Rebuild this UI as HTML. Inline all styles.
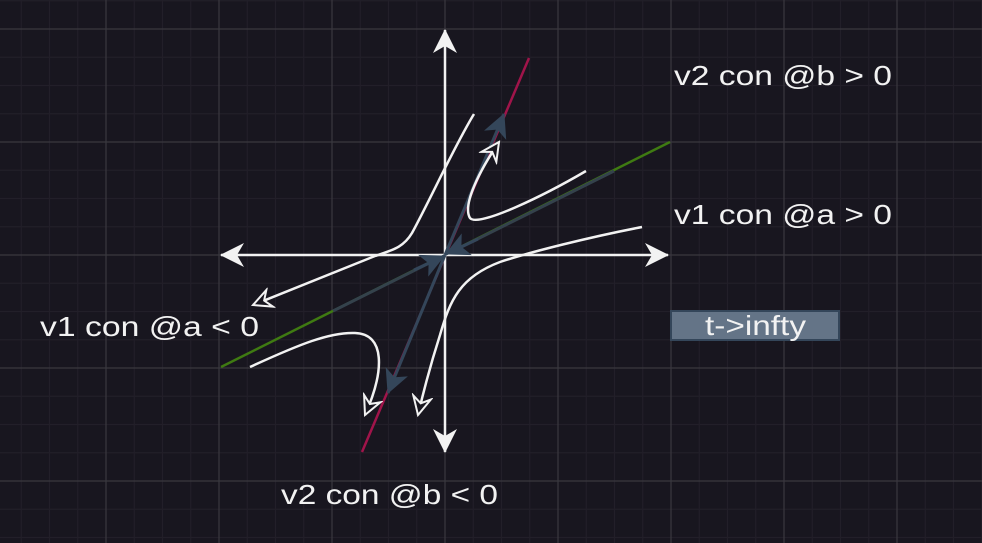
<!DOCTYPE html>
<html><head><meta charset="utf-8"><style>
html,body{margin:0;padding:0;background:#18161f;}
svg{display:block;}
text{font-family:"Liberation Sans",sans-serif;fill:#f2f2f2;font-size:28px;}
</style></head><body>
<svg width="982" height="543" viewBox="0 0 982 543">
<defs>
<marker id="hollow" viewBox="0 0 22 22" refX="20" refY="11" markerWidth="22" markerHeight="22" markerUnits="userSpaceOnUse" orient="auto">
<path d="M20,11 L2,2 L8,11 L2,20 Z" fill="#18161f" stroke="#f2f2f2" stroke-width="2"/>
</marker>
<marker id="white" viewBox="0 0 26 26" refX="24" refY="13" markerWidth="26" markerHeight="26" markerUnits="userSpaceOnUse" orient="auto">
<path d="M25,13 L1,1 L8,13 L1,25 Z" fill="#f2f2f2"/>
</marker>
<marker id="slate" viewBox="0 0 26 26" refX="24" refY="13" markerWidth="26" markerHeight="26" markerUnits="userSpaceOnUse" orient="auto">
<path d="M25,13 L1,1 L7,13 L1,25 Z" fill="#34465a"/>
</marker>
</defs>
<g id="grid"></g>
<line x1="221" y1="367" x2="670" y2="142" stroke="#3f7a12" stroke-width="2.5"/>
<line x1="333" y1="311" x2="614" y2="171" stroke="#34424c" stroke-width="3"/>
<line x1="529" y1="58" x2="362" y2="452" stroke="#a0144a" stroke-width="2.5"/>
<path d="M445,255 L668,255" stroke="#f2f2f2" stroke-width="2.5" marker-end="url(#white)"/>
<path d="M445,255 L221,255" stroke="#f2f2f2" stroke-width="2.5" marker-end="url(#white)"/>
<path d="M445,255 L445,30" stroke="#f2f2f2" stroke-width="2.5" marker-end="url(#white)"/>
<path d="M445,255 L445,452" stroke="#f2f2f2" stroke-width="2.5" marker-end="url(#white)"/>
<path d="M445,255 L504,114" stroke="#34465a" stroke-width="3" marker-end="url(#slate)"/>
<path d="M445,255 L388,393" stroke="#34465a" stroke-width="3" marker-end="url(#slate)"/>
<path d="M478,239 L446,254" stroke="#34465a" stroke-width="3" marker-end="url(#slate)"/>
<path d="M414,270 L444,256" stroke="#34465a" stroke-width="3" marker-end="url(#slate)"/>
<path d="M474,114 C455,145 430,200 412,233 C403,248 392,250 375,256 L253,305" fill="none" stroke="#f2f2f2" stroke-width="2.5" marker-end="url(#hollow)"/>
<path d="M586,171 C545,195 478,228 470,218 C462,205 480,170 499,142" fill="none" stroke="#f2f2f2" stroke-width="2.5" marker-end="url(#hollow)"/>
<path d="M642,227 C590,237 530,252 500,262 C460,277 450,300 440,335 C432,360 425,385 418,415" fill="none" stroke="#f2f2f2" stroke-width="2.5" marker-end="url(#hollow)"/>
<path d="M250,367 C300,344 330,332 355,333 C385,334 385,370 365,415" fill="none" stroke="#f2f2f2" stroke-width="2.5" marker-end="url(#hollow)"/>
<text x="674" y="85" textLength="218" lengthAdjust="spacingAndGlyphs">v2 con @b &gt; 0</text>
<text x="674" y="224" textLength="218" lengthAdjust="spacingAndGlyphs">v1 con @a &gt; 0</text>
<text x="40" y="336" textLength="219" lengthAdjust="spacingAndGlyphs">v1 con @a &lt; 0</text>
<text x="281" y="504" textLength="217" lengthAdjust="spacingAndGlyphs">v2 con @b &lt; 0</text>
<g>
<rect x="671" y="311" width="168" height="29" fill="#647487" stroke="#34465a" stroke-width="2"/>
<text x="705" y="335" textLength="101" lengthAdjust="spacingAndGlyphs">t-&gt;infty</text>
</g>
</svg>
<script>
var g=document.getElementById('grid');
var ns='http://www.w3.org/2000/svg';
function ln(x1,y1,x2,y2,c){var l=document.createElementNS(ns,'line');l.setAttribute('x1',x1);l.setAttribute('y1',y1);l.setAttribute('x2',x2);l.setAttribute('y2',y2);l.setAttribute('stroke',c);l.setAttribute('stroke-width',1.2);


g.appendChild(l);}
for(var i=-20;i<40;i++){var x=445+i*28.25;if(x>=0&&x<=982&&i%4!==0)ln(x,0,x,543,'#221f29');var y=255+i*28.25;if(y>=0&&y<=543&&i%4!==0)ln(0,y,982,y,'#221f29');}
for(var i=-5;i<10;i++){var x=445+i*113;if(x>=0&&x<=982)ln(x,0,x,543,'#3a383f');var y=255+i*113;if(y>=0&&y<=543)ln(0,y,982,y,'#3a383f');}
</script>
</body></html>
